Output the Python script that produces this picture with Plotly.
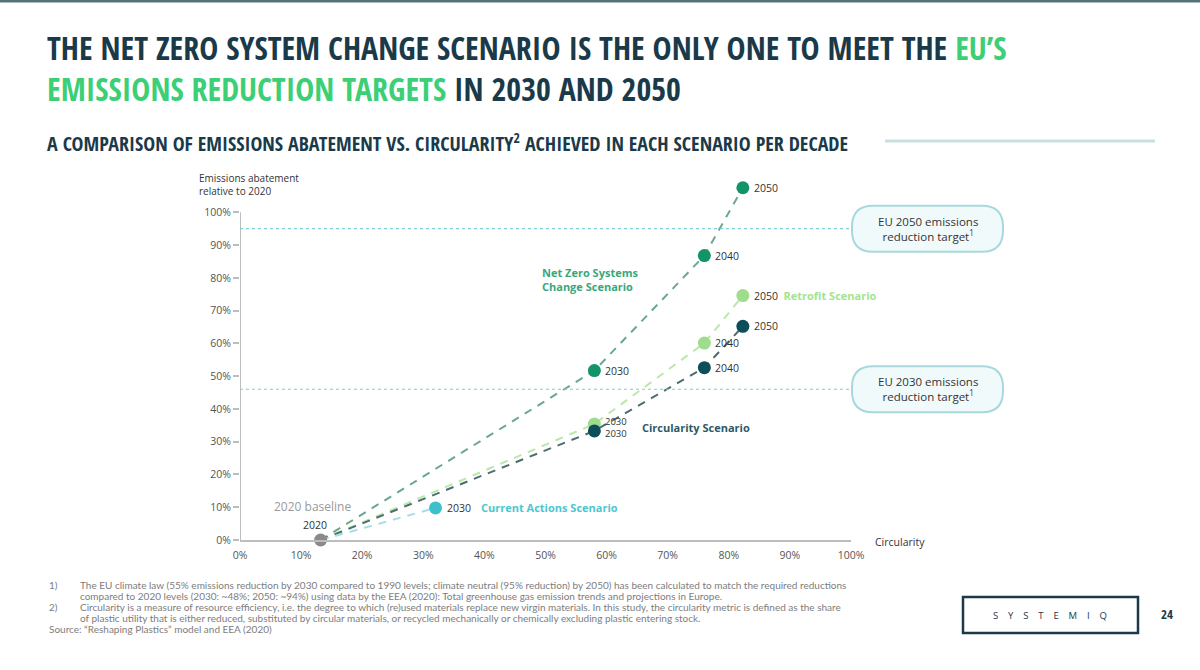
import plotly.graph_objects as go

# decade points per scenario (circularity, emissions abatement)
decades = ["2030", "2040", "2050"]
base_circ = 0.132
base_abate = 0.0
nz_circ = [0.58, 0.76, 0.823]
nz_abate = [0.517, 0.868, 1.075]
retro_circ = [0.58, 0.76, 0.823]
retro_abate = [0.354, 0.601, 0.746]
circ_circ = [0.58, 0.76, 0.823]
circ_abate = [0.333, 0.526, 0.652]
ca_circ = [0.32]
ca_abate = [0.098]
targets = [0.46, 0.95]
target_names = ["EU 2030 emissions<br>reduction target<sup>1</sup>",
                "EU 2050 emissions<br>reduction target<sup>1</sup>"]
tick_vals = [0, 0.1, 0.2, 0.3, 0.4, 0.5, 0.6, 0.7, 0.8, 0.9, 1.0]
tick_text = ["0%", "10%", "20%", "30%", "40%", "50%", "60%", "70%", "80%", "90%", "100%"]

HEAD = "Open Sans Condensed, Open Sans, sans-serif"
BODY = "Open Sans, Noto Sans, sans-serif"
NOTE = "Lato, Noto Sans, sans-serif"
NAVY = "#1b3a49"
DARK = "#333333"
COND = "<span style='font-stretch:75%'>{}</span>"

# plot area in pixels
L, R, T, B = 240, 851, 173, 540
W, H = 1200, 670


def px(x):
    return (x - L) / (R - L)


def py(y):
    return (B - y) / (B - T)


annotations = []
shapes = []


def note(x, y, text, size, color, family=BODY, xanchor="left", align="left"):
    annotations.append(dict(xref="paper", yref="paper", x=px(x), y=py(y), text=text,
                            showarrow=False, xanchor=xanchor, yanchor="middle", align=align,
                            font=dict(family=family, size=size, color=color)))


fig = go.Figure()

series = [
    ("Net Zero", nz_circ, nz_abate, "#139467", "#6aa88e"),
    ("Retrofit", retro_circ, retro_abate, "#9edd8c", "#b9e8aa"),
    ("Circularity", circ_circ, circ_abate, "#0c4f58", "#4e6c72"),
    ("Current Actions", ca_circ, ca_abate, "#3cc0cc", "#a3e0e6"),
]

for name, xs, ys, mc, lc in series:
    fig.add_trace(go.Scatter(x=[base_circ] + xs, y=[base_abate] + ys, mode="lines",
                             line=dict(color=lc, width=2, dash="8px,7px"),
                             hoverinfo="skip", showlegend=False, cliponaxis=False))

for name, xs, ys, mc, lc in series:
    fig.add_trace(go.Scatter(x=xs, y=ys, mode="markers", name=name,
                             marker=dict(color=mc, size=13),
                             showlegend=False, cliponaxis=False))

fig.add_trace(go.Scatter(x=[base_circ], y=[base_abate], mode="markers",
                         marker=dict(color="#8a8a8a", size=13),
                         showlegend=False, cliponaxis=False))

# y axis line only up to 100%
shapes.append(dict(type="line", xref="x", yref="y", x0=0, x1=0, y0=0, y1=1,
                   line=dict(color="#bdbdbd", width=2)))

# EU target lines and pill boxes
for t, label in zip(targets, target_names):
    shapes.append(dict(type="line", xref="x", yref="y", x0=0, x1=px(853), y0=t, y1=t,
                       line=dict(color="#7fcfd3", width=1.2, dash="dot")))
    w, h, r = 151, 46, 21
    a, b = w / 2, h / 2
    path = (f"M {-a + r},{-b} L {a - r},{-b} Q {a},{-b} {a},{-b + r} L {a},{b - r} "
            f"Q {a},{b} {a - r},{b} L {-a + r},{b} Q {-a},{b} {-a},{b - r} "
            f"L {-a},{-b + r} Q {-a},{-b} {-a + r},{-b} Z")
    shapes.append(dict(type="path", xref="paper", yref="y", xsizemode="pixel", ysizemode="pixel",
                       xanchor=px(927.5), yanchor=t, path=path,
                       fillcolor="#f1fafb", line=dict(color="#a9d8dc", width=2)))
    annotations.append(dict(xref="paper", yref="y", x=px(927.5), y=t, text=label,
                            showarrow=False, xanchor="center", yanchor="middle",
                            font=dict(family=BODY, size=11.5, color=DARK), align="center"))


def year_label(x, y, text, dy=0, size=10.5):
    annotations.append(dict(x=x, y=y, text=text, showarrow=False, xanchor="left",
                            yanchor="middle", xshift=9, yshift=dy,
                            font=dict(family=BODY, size=size, color=DARK)))


year_label(nz_circ[0], nz_abate[0], decades[0])
year_label(nz_circ[1], nz_abate[1], decades[1])
year_label(nz_circ[2], nz_abate[2], decades[2])
year_label(retro_circ[0], retro_abate[0], decades[0], dy=3, size=9.5)
year_label(retro_circ[1], retro_abate[1], decades[1])
year_label(circ_circ[0], circ_abate[0], decades[0], dy=-3, size=9.5)
year_label(circ_circ[1], circ_abate[1], decades[1])
year_label(circ_circ[2], circ_abate[2], decades[2])
year_label(ca_circ[0], ca_abate[0], decades[0])
annotations.append(dict(x=retro_circ[2], y=retro_abate[2], showarrow=False, xanchor="left",
                        yanchor="middle", xshift=9, font=dict(family=BODY, size=10.5, color=DARK),
                        text="2050  <span style='color:#a4e38f;font-size:11px'><b>Retrofit Scenario</b></span>"))

annotations.append(dict(x=base_circ, y=base_abate, text="2020", showarrow=False,
                        xanchor="center", yanchor="middle", yshift=15, xshift=-6,
                        font=dict(family=BODY, size=10.5, color=DARK)))
note(272, 506, "2020 baseline", 12, "#9a9a9a")
note(479, 507, "<b>Current Actions Scenario</b>", 11, "#4cc6d0")
note(640, 427, "<b>Circularity Scenario</b>", 11, "#2c5a66")
note(540, 279, "<b>Net Zero Systems<br>Change Scenario</b>", 11, "#3aa67b")

# axis titles
note(197, 184, "Emissions abatement<br>relative to 2020", 10, DARK)
note(873, 542, "Circularity", 10.5, DARK)

# headline
note(45, 48, COND.format("<b>THE NET ZERO SYSTEM CHANGE SCENARIO IS THE ONLY ONE TO MEET THE "
                         "<span style='color:#3ccf76'>EU’S</span></b>"), 32, NAVY, HEAD)
note(45, 88, COND.format("<b><span style='color:#3ccf76'>EMISSIONS REDUCTION TARGETS</span>"
                         " IN 2030 AND 2050</b>"), 32, NAVY, HEAD)
note(45, 142, COND.format("<b>A COMPARISON OF EMISSIONS ABATEMENT VS. CIRCULARITY<sup>2</sup>"
                          " ACHIEVED IN EACH SCENARIO PER DECADE</b>"), 20, NAVY, HEAD)
shapes.append(dict(type="line", xref="paper", yref="paper", x0=px(885), x1=px(1155),
                   y0=py(141), y1=py(141), line=dict(color="#c9e0df", width=3)))
shapes.append(dict(type="line", xref="paper", yref="paper", x0=px(0), x1=px(1200),
                   y0=py(1), y1=py(1), line=dict(color="#55737a", width=3)))

# footnotes
notes = [
    (585, 78, "The EU climate law (55% emissions reduction by 2030 compared to 1990 levels; climate neutral (95% reduction) by 2050) has been calculated to match the required reductions"),
    (596, 78, "compared to 2020 levels (2030: ~48%; 2050: ~94%) using data by the EEA (2020): Total greenhouse gas emission trends and projections in Europe."),
    (607, 78, "Circularity is a measure of resource efficiency, i.e. the degree to which (re)used materials replace new virgin materials. In this study, the circularity metric is defined as the share"),
    (618, 78, "of plastic utility that is either reduced, substituted by circular materials, or recycled mechanically or chemically excluding plastic entering stock."),
    (629, 47, "Source: “Reshaping Plastics” model and EEA (2020)"),
]
for y, x, txt in notes:
    note(x, y, txt, 10, "#7d7d7d", NOTE)
note(47, 585, "1)", 10, "#7d7d7d", NOTE)
note(47, 607, "2)", 10, "#7d7d7d", NOTE)

# logo box and page number
shapes.append(dict(type="rect", xref="paper", yref="paper", x0=px(963), x1=px(1138),
                   y0=py(597), y1=py(633), line=dict(color=NAVY, width=2.5)))
note(1050, 615, "S    Y    S    T    E    M    I    Q", 9.5, NAVY, BODY, "center")
note(1167, 614, COND.format("<b>24</b>"), 13, NAVY, HEAD, "center")

fig.update_layout(
    width=W, height=H,
    margin=dict(l=L, r=W - R, t=T, b=H - B),
    paper_bgcolor="white", plot_bgcolor="white",
    shapes=shapes, annotations=annotations,
    xaxis=dict(range=[0, 1], tickvals=tick_vals, ticktext=tick_text, showgrid=False,
               zeroline=False, showline=True, linecolor="#bdbdbd", linewidth=2,
               tickfont=dict(family=BODY, size=10.5, color="#555"), ticks="", ticklabelstandoff=4),
    yaxis=dict(range=[0, 1.12], tickvals=tick_vals, ticktext=tick_text, showgrid=False,
               zeroline=False, showline=False, ticks="outside", ticklen=6, tickwidth=1.5,
               tickcolor="#bdbdbd", tickfont=dict(family=BODY, size=10.5, color="#555")),
)

fig.write_html("out.html", config={"displayModeBar": False},
               post_script="document.body.style.margin='0px';")
